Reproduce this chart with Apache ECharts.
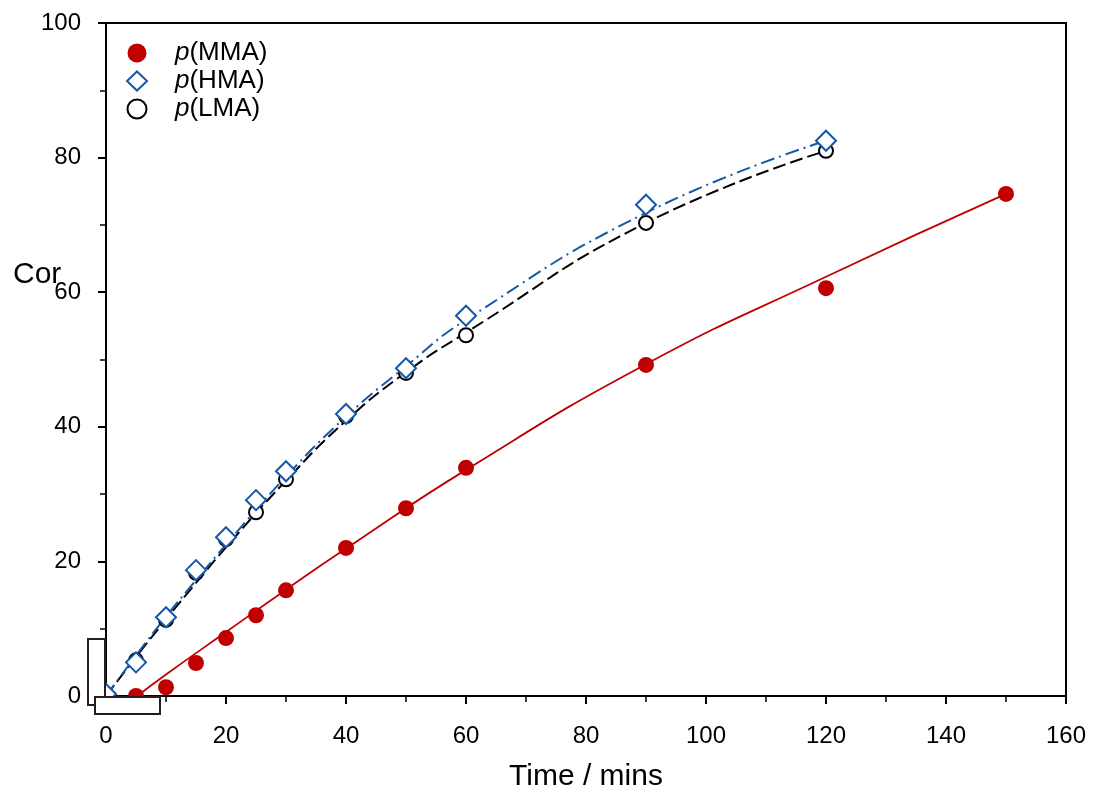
<!DOCTYPE html>
<html><head><meta charset="utf-8">
<script src="https://cdn.jsdelivr.net/npm/echarts@6/dist/echarts.min.js"></script>
<style>html,body{margin:0;padding:0;background:#fff}#c{width:1094px;height:794px}</style>
</head><body><div id="c"></div>
<script>
const timeMMA = [5,10,15,20,25,30,40,50,60,90,120,150];
const convMMA = [0,1.3,4.9,8.6,12.0,15.7,22.0,27.9,33.9,49.2,60.6,74.6];
const timeHL = [0,5,10,15,20,25,30,40,50,60,90,120];
const convHMA = [0.3,5.0,11.7,18.7,23.6,29.1,33.4,41.9,48.7,56.5,73.0,82.5];
const convLMA = [0.3,5.3,11.3,18.3,23.3,27.3,32.2,41.6,48.0,53.6,70.3,81.0];
const fitTimeMMA = [5.2,10,20,30,40,60,90,120,150];
const fitMMA = [0,3.2,9.5,15.8,21.9,33.6,49.3,62.3,74.6];
const fitTimeHL = [0,5,10,15,20,30,40,50,60,90,120];
const fitHMA = [0,6.0,11.8,17.2,22.5,32.6,41.5,49.0,55.9,71.8,82.5];
const fitLMA = [0,5.8,11.4,16.8,22.1,32.0,40.9,48.1,54.0,70.3,81.0];
const xTicks = [0,20,40,60,80,100,120,140,160];
const yTicks = [0,20,40,60,80,100];
const yTitle = 'Cor';
const xTitle = 'Time / mins';

const zip = (a,b) => a.map((v,i)=>[v,b[i]]);
const RED = '#c00000', BLUE = '#1558a8';
const FONT = '"Liberation Sans", Arial, sans-serif';

const chart = echarts.init(document.getElementById('c'), null, {renderer:'canvas'});
chart.setOption({
  animation:false,
  textStyle:{fontFamily:FONT},
  grid:{left:106,right:28,top:23,bottom:98,show:true,borderColor:'#000',borderWidth:2,backgroundColor:'transparent',
        containLabel:false, outerBoundsMode:'none'},
  legend:{
    data:['MMA','HMA','LMA'], orient:'vertical', left:121, top:35, itemGap:2,
    itemWidth:20, itemHeight:19,
    formatter: n => '{s|}{i|p}(' + n + ')',
    textStyle:{fontSize:26,color:'#000',fontFamily:FONT,
      rich:{s:{width:23},i:{fontStyle:'italic',fontSize:26,fontFamily:FONT,color:'#000'}}}
  },
  xAxis:{
    type:'value', min:xTicks[0], max:xTicks[xTicks.length-1], interval:20,
    name:xTitle, nameLocation:'middle', nameGap:66,
    nameTextStyle:{fontSize:30,color:'#000',fontFamily:FONT},
    axisLine:{onZero:false,lineStyle:{color:'#000',width:2}},
    axisTick:{show:true,inside:false,length:8,lineStyle:{color:'#000',width:2}},
    minorTick:{show:true,splitNumber:2,length:6,lineStyle:{color:'#000',width:1.5}},
    axisLabel:{fontSize:24,color:'#000',margin:28,fontFamily:FONT},
    splitLine:{show:false}
  },
  yAxis:{
    type:'value', min:yTicks[0], max:yTicks[yTicks.length-1], interval:20,
    axisLine:{onZero:false,lineStyle:{color:'#000',width:2}},
    axisTick:{show:true,inside:false,length:8,lineStyle:{color:'#000',width:2}},
    minorTick:{show:true,splitNumber:2,length:6,lineStyle:{color:'#000',width:1.5}},
    axisLabel:{fontSize:24,color:'#000',margin:25,fontFamily:FONT},
    splitLine:{show:false}
  },
  series:[
    {type:'line', name:'fitMMA', data:zip(fitTimeMMA,fitMMA), smooth:true, showSymbol:false, symbol:'none',
     lineStyle:{color:RED,width:1.8}, z:2, silent:true},
    {type:'line', name:'fitLMA', data:zip(fitTimeHL,fitLMA), smooth:true, showSymbol:false, symbol:'none',
     lineStyle:{color:'#000',width:2,type:[13,5]}, z:2, silent:true},
    {type:'line', name:'fitHMA', data:zip(fitTimeHL,fitHMA), smooth:true, showSymbol:false, symbol:'none',
     lineStyle:{color:BLUE,width:2,type:[14,5,2,5]}, z:2, silent:true},
    {type:'scatter', name:'MMA', data:zip(timeMMA,convMMA), symbol:'circle', symbolSize:16,
     itemStyle:{color:RED,opacity:1}, z:5, clip:false},
    {type:'scatter', name:'LMA', data:zip(timeHL,convLMA), symbol:'circle', symbolSize:14,
     itemStyle:{color:'#fff',borderColor:'#000',borderWidth:2,opacity:1}, z:5, clip:false},
    {type:'scatter', name:'HMA', data:zip(timeHL,convHMA), symbol:'diamond', symbolSize:[20,20],
     itemStyle:{color:'#fff',borderColor:BLUE,borderWidth:2,opacity:1}, z:6, clip:false}
  ],
  graphic:[
    {type:'text', z:50, left:13, top:260, style:{text:yTitle, font:'30px "Liberation Sans", Arial, sans-serif', fill:'#000'}},
    {type:'rect', z:100, shape:{x:88,y:639,width:17,height:66}, style:{fill:'#fff',stroke:'#2a1c1c',lineWidth:2}},
    {type:'rect', z:100, shape:{x:95,y:697,width:65,height:17}, style:{fill:'#fff',stroke:'#2a1c1c',lineWidth:2}}
  ]
});
</script></body></html>
